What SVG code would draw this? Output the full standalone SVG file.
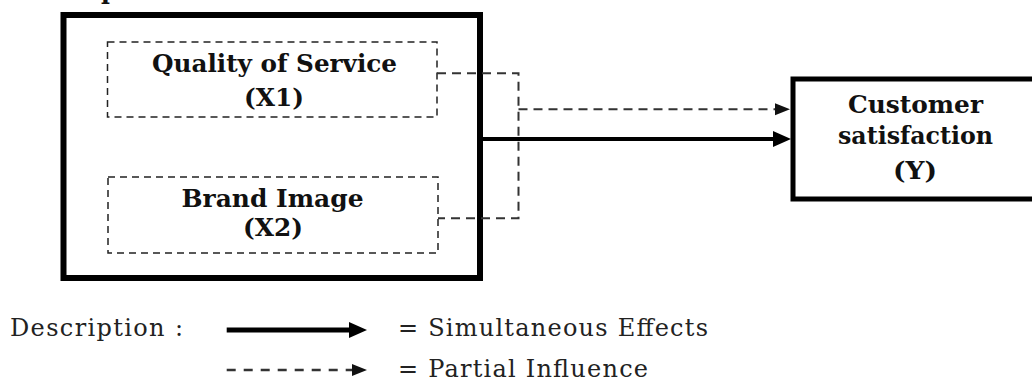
<svg xmlns="http://www.w3.org/2000/svg" width="1032" height="381" viewBox="0 0 1032 381">
<style>
  .bt { font-family: "DejaVu Serif", "Liberation Serif", serif; font-weight: bold; fill: #111; }
  .rt { font-family: "DejaVu Serif", "Liberation Serif", serif; fill: #222; }
  .thick { fill: none; stroke: #000; }
  .dbox { fill: none; stroke: #222; stroke-width: 1.5; stroke-dasharray: 7 5; }
  .dline { fill: none; stroke: #333; stroke-width: 2; stroke-dasharray: 9 6; }
  .sline { fill: none; stroke: #000; stroke-width: 4; }
</style>
<defs>
  <marker id="hs" markerUnits="userSpaceOnUse" markerWidth="18" markerHeight="16" refX="0" refY="8" orient="auto" overflow="visible">
    <path d="M0,0 L18,8 L0,16 Z" fill="#000"/>
  </marker>
  <marker id="hd" markerUnits="userSpaceOnUse" markerWidth="15" markerHeight="12" refX="0" refY="6" orient="auto" overflow="visible">
    <path d="M0,0 L15,6 L0,12 Z" fill="#111"/>
  </marker>
</defs>
<rect width="1032" height="381" fill="#fff"/>
<text class="bt" x="101" y="-1" font-size="24">p</text>

<g id="independent">
  <rect class="thick" x="63.5" y="15" width="416.5" height="263" stroke-width="6"/>
</g>
<g id="x1">
  <rect class="dbox" x="107.5" y="42" width="329.5" height="75"/>
  <text class="bt" x="274.5" y="72" font-size="23.5" text-anchor="middle" textLength="245" lengthAdjust="spacingAndGlyphs">Quality of Service</text>
  <text class="bt" x="274" y="106" font-size="23.5" text-anchor="middle" textLength="60" lengthAdjust="spacingAndGlyphs">(X1)</text>
</g>
<g id="x2">
  <rect class="dbox" x="108" y="177" width="330" height="76"/>
  <text class="bt" x="272.5" y="207" font-size="23.5" text-anchor="middle" textLength="182" lengthAdjust="spacingAndGlyphs">Brand Image</text>
  <text class="bt" x="273" y="235.5" font-size="23.5" text-anchor="middle" textLength="60" lengthAdjust="spacingAndGlyphs">(X2)</text>
</g>
<g id="y">
  <rect class="thick" x="793" y="79" width="260" height="120" stroke-width="5"/>
  <text class="bt" x="915.5" y="112.5" font-size="23.5" text-anchor="middle" textLength="135" lengthAdjust="spacingAndGlyphs">Customer</text>
  <text class="bt" x="915.5" y="143.5" font-size="23.5" text-anchor="middle" textLength="155" lengthAdjust="spacingAndGlyphs">satisfaction</text>
  <text class="bt" x="915" y="179" font-size="23.5" text-anchor="middle" textLength="44" lengthAdjust="spacingAndGlyphs">(Y)</text>
</g>
<g id="connectors">
  <path class="dline" d="M437,73.3 H518.5 V218.3 H438"/>
  <path class="dline" d="M518.5,109.3 H775" marker-end="url(#hd)"/>
  <path class="sline" d="M483,139 H773" marker-end="url(#hs)"/>
</g>
<g id="legend">
  <text class="rt" x="10" y="336" font-size="24" textLength="173" lengthAdjust="spacing">Description :</text>
  <path d="M226.7,330 H349" fill="none" stroke="#000" stroke-width="5" marker-end="url(#hs)"/>
  <text class="rt" x="398" y="336" font-size="24" textLength="310" lengthAdjust="spacing">= Simultaneous Effects</text>
  <path d="M226.7,370 H352" fill="none" stroke="#333" stroke-width="2.5" stroke-dasharray="9 8" marker-end="url(#hd)"/>
  <text class="rt" x="398" y="377" font-size="24" textLength="250" lengthAdjust="spacing">= Partial Influence</text>
</g>
</svg>
